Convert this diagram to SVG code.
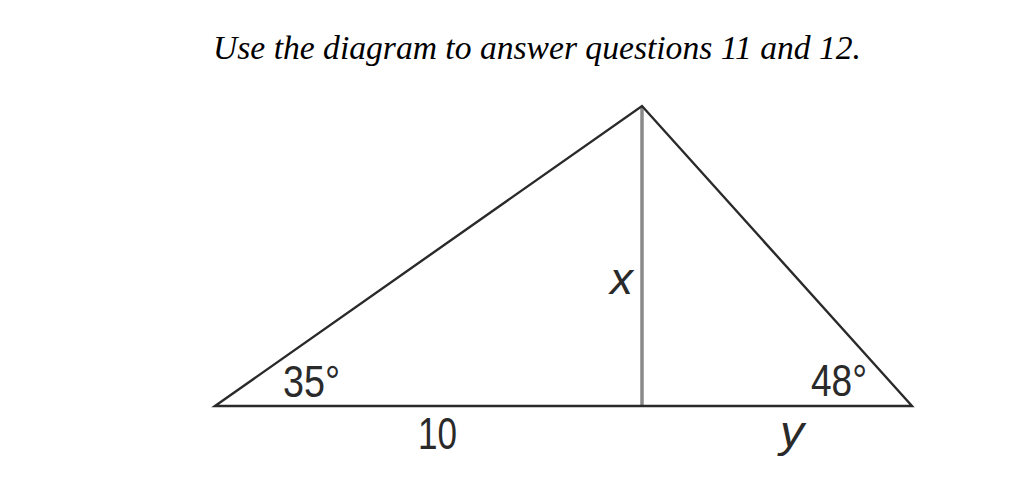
<svg xmlns="http://www.w3.org/2000/svg" width="1020" height="496" viewBox="0 0 1020 496">
<style>
.lbl{font-family:"Liberation Sans Narrow","Liberation Sans",Arial,sans-serif;fill:#2a2a2a;font-size:45px}
.it{font-style:italic}
.side{stroke:#2a2a2a;stroke-width:2.4;fill:none;stroke-linejoin:miter}
</style>
<rect width="1020" height="496" fill="#fff"/>
<text x="213" y="59" font-family="Liberation Serif,serif" font-style="italic" font-size="34" fill="#000" textLength="648" lengthAdjust="spacingAndGlyphs">Use the diagram to answer questions 11 and 12.</text>
<g id="altitude"><line x1="642" y1="107" x2="642" y2="406" stroke="#8a8a8a" stroke-width="3.5"/></g>
<g id="triangle"><polygon class="side" points="215,406 642,106 912,406"/></g>
<g id="labels">
<text class="lbl" x="283" y="397" textLength="57" lengthAdjust="spacingAndGlyphs">35°</text>
<text class="lbl" x="418" y="449" textLength="39" lengthAdjust="spacingAndGlyphs">10</text>
<text class="lbl it" x="610" y="294" textLength="23" lengthAdjust="spacingAndGlyphs">x</text>
<text class="lbl" x="811" y="396" textLength="56" lengthAdjust="spacingAndGlyphs">48°</text>
<text class="lbl it" x="780" y="447" textLength="24" lengthAdjust="spacingAndGlyphs">y</text>
</g>
</svg>
